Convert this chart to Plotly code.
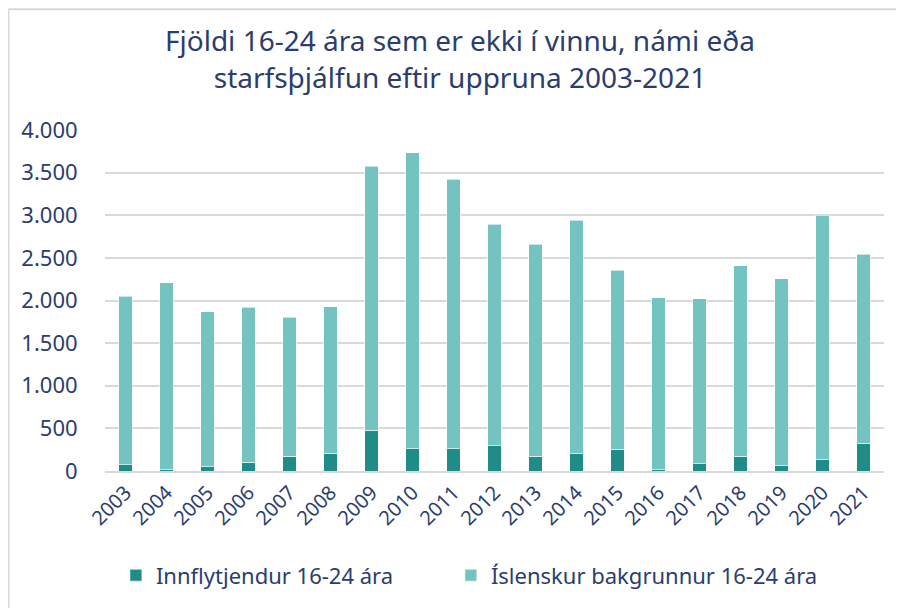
import plotly.graph_objects as go

# Data
years = [str(y) for y in range(2003, 2022)]
totals = [2048, 2207, 1868, 1923, 1803, 1927, 3576, 3732, 3425, 2895,
          2662, 2942, 2355, 2032, 2020, 2405, 2258, 3000, 2541]
innflytjendur = [75, 12, 48, 103, 175, 206, 476, 262, 262, 298,
                 175, 202, 258, 12, 83, 175, 60, 131, 326]
islenskur = [t - i for t, i in zip(totals, innflytjendur)]

text_color = '#2b3d6e'
font_family = 'Noto Sans, Open Sans, sans-serif'

fig = go.Figure()
fig.add_trace(go.Bar(
    x=years, y=innflytjendur, name='Innflytjendur 16-24 ára', legend='legend',
    marker=dict(color='#1f8c87', line=dict(color='rgba(255,255,255,0.6)', width=1))
))
fig.add_trace(go.Bar(
    x=years, y=islenskur, name='Íslenskur bakgrunnur 16-24 ára', legend='legend2',
    marker=dict(color='#73c3c1', line=dict(color='rgba(255,255,255,0.6)', width=1))
))

# legends centred on the text line so they stay inside the figure (no margin push)
legend_style = dict(orientation='h', xanchor='left', y=-0.306, yanchor='middle',
                    font=dict(size=22, color=text_color), bgcolor='rgba(0,0,0,0)')

# page body has an 8px margin, so the figure is a bit smaller than the window
fig.update_layout(
    barmode='stack',
    bargap=0.68,
    width=888, height=600,
    separators=',.',
    paper_bgcolor='white', plot_bgcolor='white',
    margin=dict(l=97, r=12, t=122, b=135),
    font=dict(family=font_family, color=text_color),
    title=dict(
        text='Fjöldi 16-24 ára sem er ekki í vinnu, námi eða<br>starfsþjálfun eftir uppruna 2003-2021',
        x=0.509, xanchor='center', y=0.928, yanchor='top',
        font=dict(size=28, color=text_color, family=font_family)
    ),
    xaxis=dict(tickangle=-45, tickfont=dict(size=20), showgrid=False,
               showline=True, linecolor='#d9d9d9', linewidth=2, ticks='',
               automargin=False),
    yaxis=dict(range=[0, 4000], dtick=500, tickformat=',d', tickfont=dict(size=22),
               showgrid=True, gridcolor='#d9d9d9', gridwidth=2, zeroline=False,
               ticks='outside', ticklen=22, tickcolor='rgba(0,0,0,0)',
               automargin=False),
    legend=dict(x=0.014, **legend_style),
    legend2=dict(x=0.444, **legend_style),
    showlegend=True,
)

# Light frame lines at top and left of the chart
fig.add_shape(type='line', xref='paper', yref='paper',
              x0=-0.1239, x1=1.1, y0=1.3542, y1=1.3542,
              line=dict(color='#d9d9d9', width=2), layer='below')
fig.add_shape(type='line', xref='paper', yref='paper',
              x0=-0.1239, x1=-0.1239, y0=-0.5, y1=1.3542,
              line=dict(color='#d9d9d9', width=2), layer='below')

fig.write_html("out.html")
